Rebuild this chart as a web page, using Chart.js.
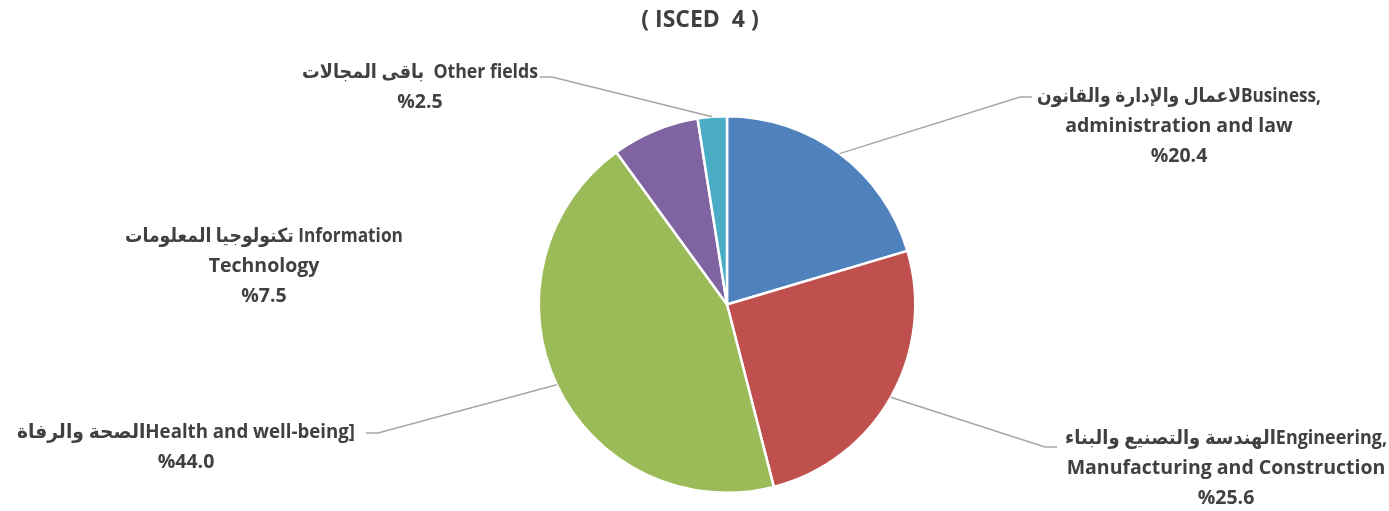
<!DOCTYPE html>
<html>
<head>
<meta charset="utf-8">
<script src="https://cdn.jsdelivr.net/npm/chart.js@4"></script>
<style>
  body { margin: 0; background: #fff; }
  #wrap { width: 1389px; height: 511px; position: relative; }
</style>
</head>
<body>
<div id="wrap"><canvas id="chart"></canvas></div>
<script>
const chartTitle = "( ISCED  4 )";
const categories = [
  "Business, administration and law",
  "Engineering, Manufacturing and Construction",
  "Health and well-being",
  "Information Technology",
  "Other fields"
];
const shares = [20.4, 25.6, 44.0, 7.5, 2.5];
const labelLines = [
  ["لاعمال والإدارة والقانونBusiness,", "administration and law"],
  ["الهندسة والتصنيع والبناءEngineering,", "Manufacturing and Construction"],
  ["الصحة والرفاةHealth and well-being]"],
  ["تكنولوجيا المعلومات Information", "Technology"],
  ["باقى المجالات  Other fields"]
];
const sliceColors = ["#4F81BD", "#C0504D", "#9BBB59", "#8064A2", "#4BACC6"];

// where each label sits (centre x, first line y, first line max width) and its leader line elbow / end
const labelPos = [
  { x: 1179, y: 96, w: 284, elbow: [1020, 97], end: [1032, 97] },
  { x: 1226, y: 438, w: 322, elbow: [1045, 447], end: [1057, 447] },
  { x: 186, y: 432, w: 338, elbow: [378, 433], end: [366, 433] },
  { x: 264, y: 236, w: 278 },
  { x: 420, y: 72, w: 236, elbow: [552, 77], end: [540, 77] }
];

const FONT = "bold 19.5px 'Open Sans', 'DejaVu Sans', sans-serif";
const TEXT = "#404040";

const labelPlugin = {
  id: "pieLabels",
  afterDraw(c) {
    const ctx = c.ctx;
    const arcs = c.getDatasetMeta(0).data;
    ctx.save();
    // title
    ctx.font = "bold 23px 'Open Sans', 'DejaVu Sans', sans-serif";
    ctx.fillStyle = TEXT;
    ctx.textAlign = "center";
    ctx.textBaseline = "middle";
    ctx.fillText(chartTitle, 700, 20);

    arcs.forEach((arc, i) => {
      const p = labelPos[i];
      const { x, y, startAngle, endAngle, outerRadius } = arc.getProps(["x", "y", "startAngle", "endAngle", "outerRadius"], true);
      if (p.elbow) {
        const mid = (startAngle + endAngle) / 2;
        ctx.strokeStyle = "#A6A6A6";
        ctx.lineWidth = 1.5;
        ctx.beginPath();
        ctx.moveTo(x + Math.cos(mid) * outerRadius, y + Math.sin(mid) * outerRadius);
        ctx.lineTo(p.elbow[0], p.elbow[1]);
        ctx.lineTo(p.end[0], p.end[1]);
        ctx.stroke();
      }
      ctx.font = FONT;
      ctx.fillStyle = TEXT;
      ctx.textAlign = "center";
      ctx.direction = "ltr";
      const lines = labelLines[i].concat(["%" + shares[i].toFixed(1)]);
      lines.forEach((t, k) => {
        if (k === 0) ctx.fillText(t, p.x, p.y, p.w);
        else ctx.fillText(t, p.x, p.y + k * 30);
      });
    });
    ctx.restore();
  }
};

chart = new Chart(document.getElementById("chart"), {
  type: "pie",
  data: {
    labels: categories,
    datasets: [{
      data: shares,
      backgroundColor: sliceColors,
      borderColor: "#ffffff",
      borderWidth: 2.5
    }]
  },
  options: {
    responsive: true,
    maintainAspectRatio: false,
    animation: false,
    layout: { padding: { top: 115, bottom: 17, left: 65, right: 0 } },
    plugins: {
      legend: { display: false },
      title: { display: false },
      tooltip: { enabled: false }
    }
  },
  plugins: [labelPlugin]
});
</script>
</body>
</html>
